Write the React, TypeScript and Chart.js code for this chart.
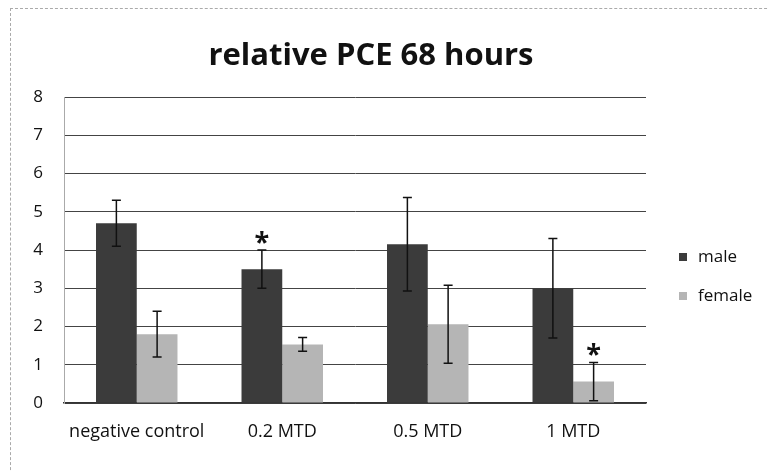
import React, { useEffect, useRef } from "react";
import { Chart, registerables } from "chart.js";

Chart.register(...registerables);

const categories = ["negative control", "0.2 MTD", "0.5 MTD", "1 MTD"];
const seriesNames = ["male", "female"];
const maleValues = [4.7, 3.5, 4.15, 3.0];
const femaleValues = [1.8, 1.53, 2.06, 0.56];
const maleErrors = [0.6, 0.5, 1.22, 1.3];
const femaleErrors = [0.6, 0.18, 1.02, 0.5];
const maleSignificant = [false, true, false, false];
const femaleSignificant = [false, false, false, true];
const yTicks = [0, 1, 2, 3, 4, 5, 6, 7, 8];
const titleText = "relative PCE 68 hours";

const FONT = "'Open Sans', Lato, sans-serif";
const colors = ["#3b3b3b", "#b5b5b5"];

const errorPlugin = {
  id: "errorBars",
  afterDatasetsDraw(chart: any) {
    const ctx = chart.ctx;
    const yScale = chart.scales.y;
    const errs = [maleErrors, femaleErrors];
    const sig = [maleSignificant, femaleSignificant];
    chart.data.datasets.forEach((ds: any, i: number) => {
      const meta = chart.getDatasetMeta(i);
      meta.data.forEach((el: any, j: number) => {
        const v = ds.data[j];
        const e = errs[i][j];
        const x = el.x;
        const yt = yScale.getPixelForValue(v + e);
        const yb = yScale.getPixelForValue(Math.max(0, v - e));
        ctx.save();
        ctx.strokeStyle = "#111";
        ctx.lineWidth = 1.5;
        ctx.beginPath();
        ctx.moveTo(x, yt);
        ctx.lineTo(x, yb);
        ctx.moveTo(x - 4.5, yt);
        ctx.lineTo(x + 4.5, yt);
        ctx.moveTo(x - 4.5, yb);
        ctx.lineTo(x + 4.5, yb);
        ctx.stroke();
        if (sig[i][j]) {
          ctx.fillStyle = "#111";
          ctx.font = `bold 27px ${FONT}`;
          ctx.textAlign = "center";
          ctx.textBaseline = "alphabetic";
          ctx.fillText("*", x, yt + 1);
        }
        ctx.restore();
      });
    });
  },
};

const decorPlugin = {
  id: "decor",
  afterDraw(chart: any) {
    const ctx = chart.ctx;
    ctx.save();
    ctx.fillStyle = "#111";
    ctx.font = `bold 31px ${FONT}`;
    ctx.textAlign = "center";
    ctx.textBaseline = "middle";
    ctx.fillText(titleText, 371, 56);
    ctx.font = `17px ${FONT}`;
    ctx.textAlign = "left";
    const ys = [257, 296];
    chart.data.datasets.forEach((ds: any, i: number) => {
      ctx.fillStyle = ds.backgroundColor;
      ctx.fillRect(679, ys[i] - 4, 8, 8);
      ctx.fillStyle = "#111";
      ctx.fillText(ds.label, 698, ys[i]);
    });
    ctx.restore();
  },
};

export default function App() {
  const ref = useRef<HTMLCanvasElement>(null);
  useEffect(() => {
    if (!ref.current) return;
    const chart = new Chart(ref.current, {
      type: "bar",
      data: {
        labels: categories,
        datasets: [
          { label: seriesNames[0], data: maleValues, backgroundColor: colors[0] },
          { label: seriesNames[1], data: femaleValues, backgroundColor: colors[1] },
        ],
      },
      options: {
        animation: false,
        responsive: false,
        layout: { padding: { top: 97, right: 122, left: 0, bottom: 0 } },
        plugins: {
          legend: { display: false },
          title: { display: false },
          tooltip: { enabled: false },
        },
        datasets: { bar: { categoryPercentage: 0.56, barPercentage: 1 } },
        scales: {
          x: {
            grid: { display: false, drawTicks: false },
            border: { display: true, color: "#333", width: 1.5 },
            ticks: { color: "#111", font: { family: FONT, size: 18 }, padding: 18 },
            afterFit: (s: any) => { s.height = 69; },
          },
          y: {
            min: 0,
            max: 8,
            afterBuildTicks: (s: any) => { s.ticks = yTicks.map((v) => ({ value: v })); },
            grid: { color: "#444", lineWidth: 1, drawTicks: false },
            border: { display: true, color: "#aaa", width: 1 },
            ticks: { color: "#111", font: { family: FONT, size: 17 }, padding: 21 },
            afterFit: (s: any) => { s.width = 64; },
          },
        },
      },
      plugins: [errorPlugin, decorPlugin],
    });
    return () => chart.destroy();
  }, []);
  return (
    <div style={{ position: "absolute", left: 0, top: 0, width: 768, height: 472, overflow: "hidden", background: "#fff" }}>
      <div style={{ position: "absolute", left: 10, top: 8, width: 800, height: 500, border: "1px dashed #aaa" }} />
      <canvas ref={ref} width={768} height={472} style={{ position: "absolute", left: 0, top: 0 }} />
    </div>
  );
}
